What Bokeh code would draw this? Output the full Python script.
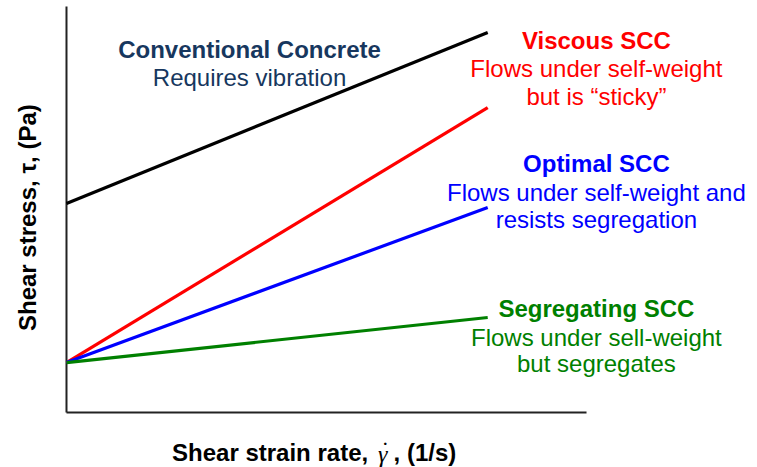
from bokeh.plotting import figure
from bokeh.models import Label, Range1d
from bokeh.embed import file_html
from bokeh.resources import INLINE
import math

# ---- data (arbitrary units 0-100) ----
strain_rate = [0, 81]
conventional = [51.5, 93.6]
viscous = [12.3, 75.1]
optimal = [12.3, 50.5]
segregating = [12.3, 23.4]

axis_x = [0, 100]   # extent of the strain-rate axis
axis_y = [0, 100]   # extent of the stress axis

series_colors = ["#000000", "#FF0000", "#0000FF", "#008000"]
title_color = "#17375E"

FONT = "Liberation Sans"

p = figure(width=757, height=467, output_backend="svg", toolbar_location=None,
           x_range=Range1d(-12.69, 132.88), y_range=Range1d(-13.55, 101.48),
           min_border=0, x_axis_type=None, y_axis_type=None)
p.outline_line_color = None
p.grid.visible = False
p.background_fill_color = "white"
p.border_fill_color = "white"

# axes lines
p.line([axis_x[0], axis_x[1]], [axis_y[0], axis_y[0]], line_color="#222222", line_width=2)
p.line([axis_x[0], axis_x[0]], [axis_y[0], axis_y[1]], line_color="#222222", line_width=2)

for ys, c in zip([conventional, viscous, optimal, segregating], series_colors):
    p.line(strain_rate, ys, line_color=c, line_width=3.2)

def lab(x, y, text, color, bold=False, size="24px", font=FONT, style=None, align="center", angle=0):
    kw = dict(x=x, y=y, text=text, text_color=color, text_font=font,
              text_font_size=size, text_align=align, text_baseline="middle", angle=angle)
    if style:
        kw["text_font_style"] = style
    elif bold:
        kw["text_font_style"] = "bold"
    else:
        kw["text_font_style"] = "normal"
    p.add_layout(Label(**kw))

# annotations
lab(35.2, 89.4, "Conventional Concrete", title_color, bold=True)
lab(35.2, 82.5, "Requires vibration", title_color)

lab(101.9, 91.6, "Viscous SCC", series_colors[1], bold=True)
lab(101.9, 84.7, "Flows under self-weight", series_colors[1])
lab(101.9, 77.8, "but is \u201csticky\u201d", series_colors[1])

lab(101.9, 61.3, "Optimal SCC", series_colors[2], bold=True)
lab(101.9, 54.2, "Flows under self-weight and", series_colors[2])
lab(101.9, 47.5, "resists segregation", series_colors[2])

lab(101.9, 25.6, "Segregating SCC", series_colors[3], bold=True)
lab(101.9, 18.5, "Flows under sell-weight", series_colors[3])
lab(101.9, 12.1, "but segregates", series_colors[3])

# axis titles
lab(-7.5, 48.0, "Shear stress, \u03c4, (Pa)", "#000000", bold=True, angle=math.pi / 2)
lab(20.3, -9.85, "Shear strain rate,", "#000000", bold=True, align="left")
lab(60.8, -10.3, "\u03b3", "#000000", font="Liberation Serif", style="italic", size="24px")
lab(61.3, -9.3, "\u02d9", "#000000", font="Liberation Serif", size="24px")
lab(62.9, -9.85, ", (1/s)", "#000000", bold=True, align="left")

open("out.html", "w").write(file_html(p, INLINE))
